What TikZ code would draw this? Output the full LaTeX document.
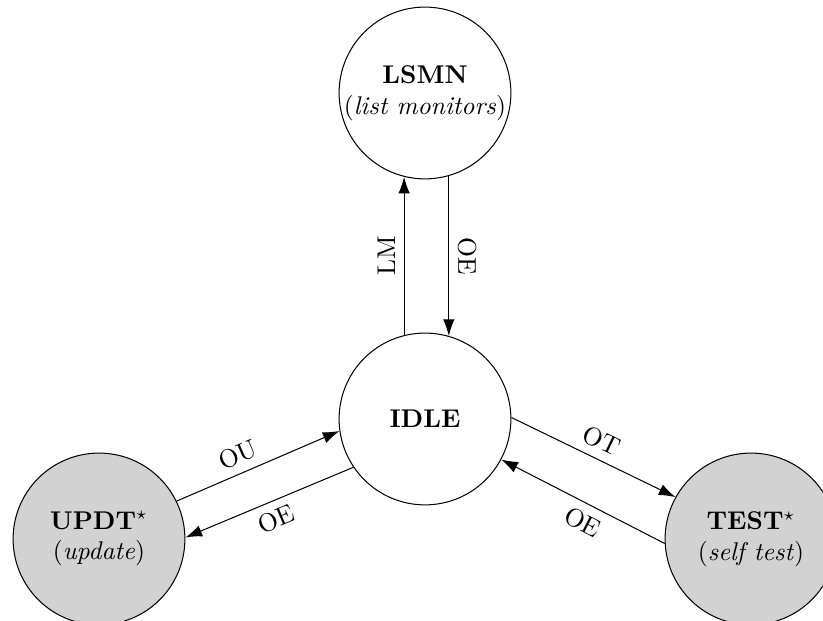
\documentclass[tikz,border=0pt]{standalone}
\usepackage{xcolor}
\usepackage{amsmath}
\usepackage{amssymb}
\usepackage{tikz}
\usetikzlibrary{arrows.meta}

\tikzset{
    state/.style={circle, draw, minimum size=67pt, inner sep=0pt, align=center},
    busy/.style={state, fill=gray!35},
    trans/.style={-{Latex[length=6.5pt,width=4.5pt]}}
}

\begin{document}
\begin{tikzpicture}[x=0.39pt, y=0.39pt]
    \useasboundingbox (0,0) rectangle (823,621);

    \node[state] (lsmn) at (425,528) {\textbf{LSMN}\\(\textit{list monitors})};
    \node[state] (idle) at (425,202) {\textbf{IDLE}};
    \node[busy] (updt) at (99,82) {\textbf{UPDT}$^\star$\\(\textit{update})};
    \node[busy] (test) at (751,82) {\textbf{TEST}$^\star$\\(\textit{self test})};

    % idle <-> list monitors
    \draw [trans] (idle.104) -- node[midway, above, sloped, allow upside down] {LM} (lsmn.256);
    \draw [trans] (lsmn.286) -- node[midway, above, sloped] {OE} (idle.74);

    % idle <-> update
    \draw [trans] (updt.26) -- node[pos=0.42, above, sloped] {OU} (idle.188);
    \draw [trans] (idle.214) -- node[midway, below, sloped] {OE} (updt.1);

    % idle <-> self test
    \draw [trans] (idle.1) -- node[midway, above, sloped] {OT} (test.151);
    \draw [trans] (test.183) -- node[pos=0.45, below, sloped] {OE} (idle.332);

\end{tikzpicture}
\end{document}
